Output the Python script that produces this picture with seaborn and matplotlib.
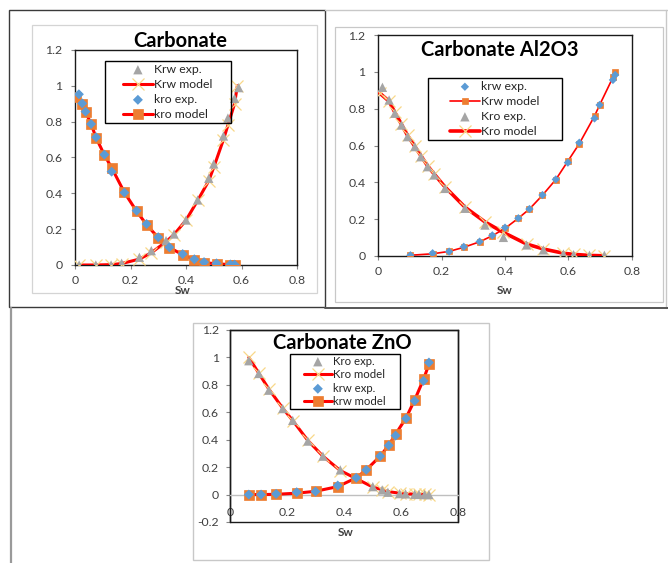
import matplotlib
matplotlib.use('Agg')
import matplotlib.pyplot as plt
from matplotlib.patches import Rectangle
from matplotlib.lines import Line2D
import seaborn as sns

sns.set_style('white')
plt.rcParams['font.family'] = ['Lato', 'DejaVu Sans']

# ---------------- data ----------------
# Carbonate
c_krw_exp_sw = [0.015, 0.075, 0.13, 0.168, 0.232, 0.275, 0.328, 0.357, 0.40, 0.442, 0.482, 0.50, 0.535, 0.551, 0.575, 0.59]
c_krw_exp = [0.0, 0.0, 0.0, 0.01, 0.043, 0.08, 0.136, 0.173, 0.251, 0.363, 0.484, 0.564, 0.72, 0.82, 0.93, 0.99]
c_krw_mod_sw = [0.015, 0.075, 0.13, 0.168, 0.232, 0.275, 0.328, 0.357, 0.40, 0.442, 0.482, 0.50, 0.535, 0.551, 0.575, 0.585]
c_krw_mod = [0.0, 0.0, 0.002, 0.008, 0.033, 0.068, 0.13, 0.17, 0.25, 0.36, 0.47, 0.545, 0.70, 0.78, 0.90, 1.0]
c_kro_exp_sw = [0.014, 0.026, 0.038, 0.058, 0.076, 0.106, 0.132, 0.178, 0.222, 0.258, 0.30, 0.34, 0.388, 0.43, 0.465, 0.51, 0.56, 0.575]
c_kro_exp = [0.953, 0.902, 0.856, 0.787, 0.713, 0.616, 0.521, 0.404, 0.303, 0.229, 0.155, 0.099, 0.061, 0.032, 0.016, 0.009, 0.003, 0.002]
c_kro_mod_sw = [0.005, 0.026, 0.038, 0.058, 0.076, 0.106, 0.133, 0.178, 0.222, 0.258, 0.30, 0.34, 0.388, 0.43, 0.465, 0.51, 0.56, 0.575]
c_kro_mod = [0.94, 0.90, 0.855, 0.787, 0.71, 0.614, 0.54, 0.405, 0.30, 0.225, 0.152, 0.097, 0.058, 0.03, 0.013, 0.007, 0.002, 0.0]

# Carbonate Al2O3
a_krw_exp_sw = [0.102, 0.172, 0.224, 0.27, 0.32, 0.36, 0.40, 0.442, 0.477, 0.518, 0.56, 0.598, 0.634, 0.682, 0.698, 0.74, 0.747]
a_krw_exp = [0.004, 0.015, 0.024, 0.05, 0.078, 0.112, 0.154, 0.205, 0.255, 0.331, 0.416, 0.507, 0.615, 0.747, 0.82, 0.956, 0.983]
a_krw_mod = [0.004, 0.012, 0.025, 0.047, 0.077, 0.11, 0.15, 0.205, 0.255, 0.33, 0.415, 0.515, 0.61, 0.76, 0.82, 0.97, 1.0]
a_kro_exp_sw = [0.014, 0.035, 0.053, 0.074, 0.093, 0.116, 0.135, 0.156, 0.177, 0.211, 0.274, 0.337, 0.395, 0.468, 0.521, 0.584, 0.616, 0.666, 0.713]
a_kro_exp = [0.916, 0.847, 0.775, 0.711, 0.648, 0.594, 0.539, 0.485, 0.44, 0.367, 0.259, 0.168, 0.101, 0.06, 0.033, 0.011, 0.007, 0.004, 0.004]
a_kro_mod_sw = [0.005, 0.035, 0.053, 0.074, 0.093, 0.116, 0.135, 0.156, 0.177, 0.211, 0.274, 0.337, 0.395, 0.468, 0.521, 0.584, 0.616, 0.666, 0.713]
a_kro_mod = [0.885, 0.84, 0.78, 0.715, 0.655, 0.595, 0.545, 0.49, 0.445, 0.375, 0.265, 0.185, 0.128, 0.065, 0.038, 0.015, 0.009, 0.003, 0.001]

# Carbonate ZnO
z_kro_exp_sw = [0.066, 0.101, 0.136, 0.185, 0.22, 0.273, 0.326, 0.387, 0.501, 0.534, 0.554, 0.595, 0.616, 0.648, 0.663, 0.683, 0.698]
z_kro_exp = [0.976, 0.883, 0.761, 0.627, 0.541, 0.39, 0.28, 0.18, 0.058, 0.034, 0.017, 0.007, 0.005, 0.002, 0.001, 0.0, 0.0]
z_kro_mod = [1.0, 0.885, 0.77, 0.63, 0.54, 0.395, 0.28, 0.175, 0.055, 0.035, 0.022, 0.01, 0.006, 0.003, 0.002, 0.001, 0.0]
z_krw_exp_sw = [0.066, 0.109, 0.162, 0.234, 0.30, 0.378, 0.443, 0.478, 0.527, 0.557, 0.581, 0.618, 0.648, 0.679, 0.698]
z_krw_exp = [0.0, 0.0, 0.005, 0.017, 0.022, 0.066, 0.122, 0.18, 0.28, 0.358, 0.43, 0.554, 0.683, 0.829, 0.963]
z_krw_mod = [0.0, 0.0, 0.002, 0.01, 0.024, 0.058, 0.122, 0.18, 0.28, 0.36, 0.44, 0.56, 0.69, 0.84, 0.95]

x_ticks = [0, 0.2, 0.4, 0.6, 0.8]
x_labels = ['0', '0.2', '0.4', '0.6', '0.8']
y_ticks = [0, 0.2, 0.4, 0.6, 0.8, 1.0, 1.2]
y_labels = ['0', '0.2', '0.4', '0.6', '0.8', '1', '1.2']
y_ticks_z = [-0.2, 0, 0.2, 0.4, 0.6, 0.8, 1.0, 1.2]
y_labels_z = ['-0.2', '0', '0.2', '0.4', '0.6', '0.8', '1', '1.2']

# ---------------- styling ----------------
RED = '#ff0000'
GRAY = '#a5a5a5'
BLUE = '#5b9bd5'
ORANGE = '#ed7d31'
YEL = '#f8d888'
TXT = '#404040'

W, H = 668, 563
fig = plt.figure(figsize=(W / 100, H / 100), dpi=100)
fig.patch.set_facecolor('white')


def frame(x0, y0, x1, y1, color, lw):
    fig.add_artist(Rectangle((x0 / W, 1 - y1 / H), (x1 - x0) / W, (y1 - y0) / H,
                             transform=fig.transFigure, fill=False,
                             edgecolor=color, linewidth=lw))


def line(x0, y0, x1, y1, color, lw):
    fig.add_artist(Line2D([x0 / W, x1 / W], [1 - y0 / H, 1 - y1 / H],
                          transform=fig.transFigure, color=color, lw=lw))


def make_axes(x0, y0, x1, y1):
    return fig.add_axes([x0 / W, 1 - y1 / H, (x1 - x0) / W, (y1 - y0) / H])


def exp_pts(ax, sw, kr, kind, label, s):
    if kind == 'tri':
        sns.scatterplot(x=sw, y=kr, ax=ax, marker='^', s=s, color=GRAY,
                        edgecolor='none', label=label, zorder=5)
    else:
        sns.scatterplot(x=sw, y=kr, ax=ax, marker='D', s=s, color=BLUE,
                        edgecolor='none', label=label, zorder=6)


def model_line(ax, sw, kr, kind, label, lw, ms):
    if kind == 'x':
        sns.lineplot(x=sw, y=kr, ax=ax, color=RED, lw=lw, marker='x',
                     markersize=ms, markeredgecolor=YEL, markeredgewidth=0.9,
                     label=label, estimator=None, sort=False, zorder=3)
    else:
        sns.lineplot(x=sw, y=kr, ax=ax, color=RED, lw=lw, marker='s',
                     markersize=ms, markerfacecolor=ORANGE, markeredgecolor=ORANGE,
                     markeredgewidth=0.5, label=label, estimator=None, sort=False,
                     zorder=4)


def style_axes(ax, ylo, yt, yl, ypad):
    ax.set_xlim(0, 0.8)
    ax.set_ylim(ylo, 1.2)
    ax.set_xticks(x_ticks, x_labels)
    ax.set_yticks(yt, yl)
    ax.set_xlabel('')
    ax.set_ylabel('')
    ax.tick_params(bottom=True, left=True, direction='out', length=3, width=0.8,
                   colors='#868686', labelcolor=TXT, labelsize=8.8)
    ax.tick_params(axis='y', pad=ypad)
    ax.tick_params(axis='x', pad=4)
    for sp in ax.spines.values():
        sp.set_visible(True)
        sp.set_color('#1a1a1a')
        sp.set_linewidth(1.0)
    ax.set_facecolor('white')


def legend(ax, order, cx, cy, x0, y0, x1, y1, fs, spacing):
    h, l = ax.get_legend_handles_labels()
    d = dict(zip(l, h))
    ax.legend([d[k] for k in order], order, loc='center',
              bbox_to_anchor=(cx / W, 1 - cy / H), bbox_transform=fig.transFigure,
              frameon=False, fontsize=fs, handlelength=2.4, handletextpad=0.15,
              labelspacing=spacing, borderpad=0, scatterpoints=1, numpoints=1,
              labelcolor='#262626')
    frame(x0, y0, x1, y1, 'black', 1.0)


# ---------------- panel frames ----------------
frame(9, 10, 325, 307, '#3a3a3a', 1.0)
frame(32, 25, 317, 293, '#d4d4d4', 0.9)
line(325, 10, 668, 10, '#c8c8c8', 1.0)
line(666, 10, 666, 308, '#c8c8c8', 1.0)
line(325, 308, 668, 308, '#555555', 1.4)
frame(335, 27, 663, 302, '#c8c8c8', 0.9)
line(11, 308, 11, 563, '#9a9a9a', 1.6)
frame(193, 323, 489, 560, '#c8c8c8', 1.0)

# ---------------- panel 1: Carbonate ----------------
ax1 = make_axes(75, 50, 297, 265)
model_line(ax1, c_krw_mod_sw, c_krw_mod, 'x', 'Krw model', 2.2, 8)
model_line(ax1, c_kro_mod_sw, c_kro_mod, 's', 'kro model', 2.2, 6.5)
exp_pts(ax1, c_krw_exp_sw, c_krw_exp, 'tri', 'Krw exp.', 45)
exp_pts(ax1, c_kro_exp_sw, c_kro_exp, 'dia', 'kro exp.', 26)
style_axes(ax1, 0, y_ticks, y_labels, 6)
legend(ax1, ['Krw exp.', 'Krw model', 'kro exp.', 'kro model'],
       168, 92, 105, 61, 231, 123, 8.8, 0.33)
fig.text(180 / W, 1 - 41 / H, 'Carbonate', ha='center', va='center',
         fontsize=14.5, fontweight='bold', color='black')
fig.text(183 / W, 1 - 290 / H, 'Sw', ha='center', va='center',
         fontsize=8.5, fontweight='bold', color=TXT)

# ---------------- panel 2: Carbonate Al2O3 ----------------
ax2 = make_axes(378, 35, 632, 256)
model_line(ax2, a_krw_exp_sw, a_krw_mod, 's', 'Krw model', 1.2, 4.5)
model_line(ax2, a_kro_mod_sw, a_kro_mod, 'x', 'Kro model', 2.6, 8)
exp_pts(ax2, a_krw_exp_sw, a_krw_exp, 'dia', 'krw exp.', 18)
exp_pts(ax2, a_kro_exp_sw, a_kro_exp, 'tri', 'Kro exp.', 45)
style_axes(ax2, 0, y_ticks, y_labels, 6)
legend(ax2, ['krw exp.', 'Krw model', 'Kro exp.', 'Kro model'],
       495, 109, 428, 78, 562, 140, 8.8, 0.33)
fig.text(500 / W, 1 - 50 / H, 'Carbonate Al2O3', ha='center', va='center',
         fontsize=14.5, fontweight='bold', color='black')
fig.text(505 / W, 1 - 291 / H, 'Sw', ha='center', va='center',
         fontsize=8.5, fontweight='bold', color=TXT)

# ---------------- panel 3: Carbonate ZnO ----------------
ax3 = make_axes(230, 330, 458, 522)
model_line(ax3, z_kro_exp_sw, z_kro_mod, 'x', 'Kro model', 2.2, 8)
model_line(ax3, z_krw_exp_sw, z_krw_mod, 's', 'krw model', 2.2, 6.5)
exp_pts(ax3, z_kro_exp_sw, z_kro_exp, 'tri', 'Kro exp.', 45)
exp_pts(ax3, z_krw_exp_sw, z_krw_exp, 'dia', 'krw exp.', 26)
style_axes(ax3, -0.2, y_ticks_z, y_labels_z, 5)
ax3.spines['bottom'].set_position(('data', 0))
ax3.spines['bottom'].set_color('#bfbfbf')
ax3.add_patch(Rectangle((0, 0), 1, 1, transform=ax3.transAxes, fill=False,
                        edgecolor='#1a1a1a', lw=1.0, clip_on=False, zorder=2))
ax3.tick_params(axis='x', length=0, pad=9)
legend(ax3, ['Kro exp.', 'Kro model', 'krw exp.', 'krw model'],
       345, 381.5, 290, 354, 400, 409, 8.2, 0.22)
fig.text(342 / W, 1 - 343 / H, 'Carbonate ZnO', ha='center', va='center',
         fontsize=14.5, fontweight='bold', color='black')
fig.text(346 / W, 1 - 533 / H, 'Sw', ha='center', va='center',
         fontsize=8.5, fontweight='bold', color=TXT)

fig.savefig('out.png', dpi=100, facecolor='white')
